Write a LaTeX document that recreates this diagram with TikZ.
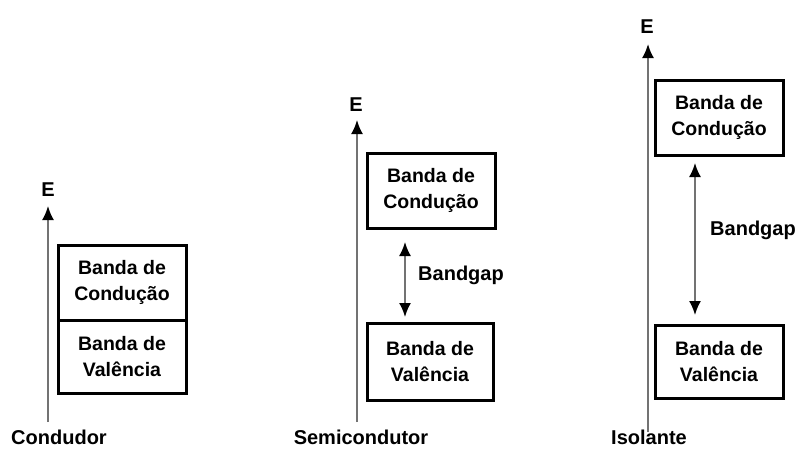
\documentclass[tikz,border=0pt]{standalone}
\usepackage{fontspec}
\setmainfont{Liberation Sans}
\usetikzlibrary{arrows.meta}
\begin{document}
\begin{tikzpicture}[x=1pt,y=-1pt,
  band/.style={draw, line width=3pt, minimum width=128pt, align=center,
    font=\bfseries\fontsize{19.5}{26}\selectfont, inner sep=0pt},
  axis/.style={draw=black!55, line width=2pt, -{Latex[length=14pt,width=12pt,color=black]}},
  gaparrow/.style={draw=black!55, line width=1.8pt,
    {Latex[length=14pt,width=12pt,color=black]}-{Latex[length=14pt,width=12pt,color=black]}},
  lab/.style={font=\bfseries\fontsize{20}{22}\selectfont, inner sep=0pt}]
\useasboundingbox (0,0) rectangle (796,448);

% ---------- Condutor ----------
\coordinate (a1b) at (48,422);
\coordinate (a1t) at (48,206);
\draw[axis] (a1b) -- (a1t);
\node[lab] (e1) at (48,190) {E};
\node[band, minimum height=75pt] (c1) at (122,282.5) {Banda de\\Condução};
\node[band, minimum height=73pt] (v1) at (122,356.5) {Banda de\\Valência};
\node[lab, anchor=base] (l1) at (59,444.5) {Condudor};

% ---------- Semicondutor ----------
\coordinate (a2b) at (357,422);
\coordinate (a2t) at (357,120);
\draw[axis] (a2b) -- (a2t);
\node[lab] (e2) at (356,105) {E};
\node[band, minimum height=75pt] (c2) at (431,190.5) {Banda de\\Condução};
\node[band, minimum height=77pt, minimum width=126pt] (v2) at (430,361.5) {Banda de\\Valência};
\coordinate (g2t) at (405,242);
\coordinate (g2b) at (405,317);
\draw[gaparrow] (g2b) -- (g2t);
\node[lab] (b2) at (461,275) {Bandgap};
\node[lab, anchor=base] (l2) at (361,444.5) {Semicondutor};

% ---------- Isolante ----------
\coordinate (a3b) at (648,432);
\coordinate (a3t) at (648,44);
\draw[axis] (a3b) -- (a3t);
\node[lab] (e3) at (647,27) {E};
\node[band, minimum height=75pt] (c3) at (719,117.5) {Banda de\\Condução};
\node[band, minimum height=73pt] (v3) at (719,361.5) {Banda de\\Valência};
\coordinate (g3t) at (695,163);
\coordinate (g3b) at (695,315);
\draw[gaparrow] (g3b) -- (g3t);
\node[lab] (b3) at (753,230) {Bandgap};
\node[lab, anchor=base] (l3) at (649,444.5) {Isolante};
\end{tikzpicture}
\end{document}
